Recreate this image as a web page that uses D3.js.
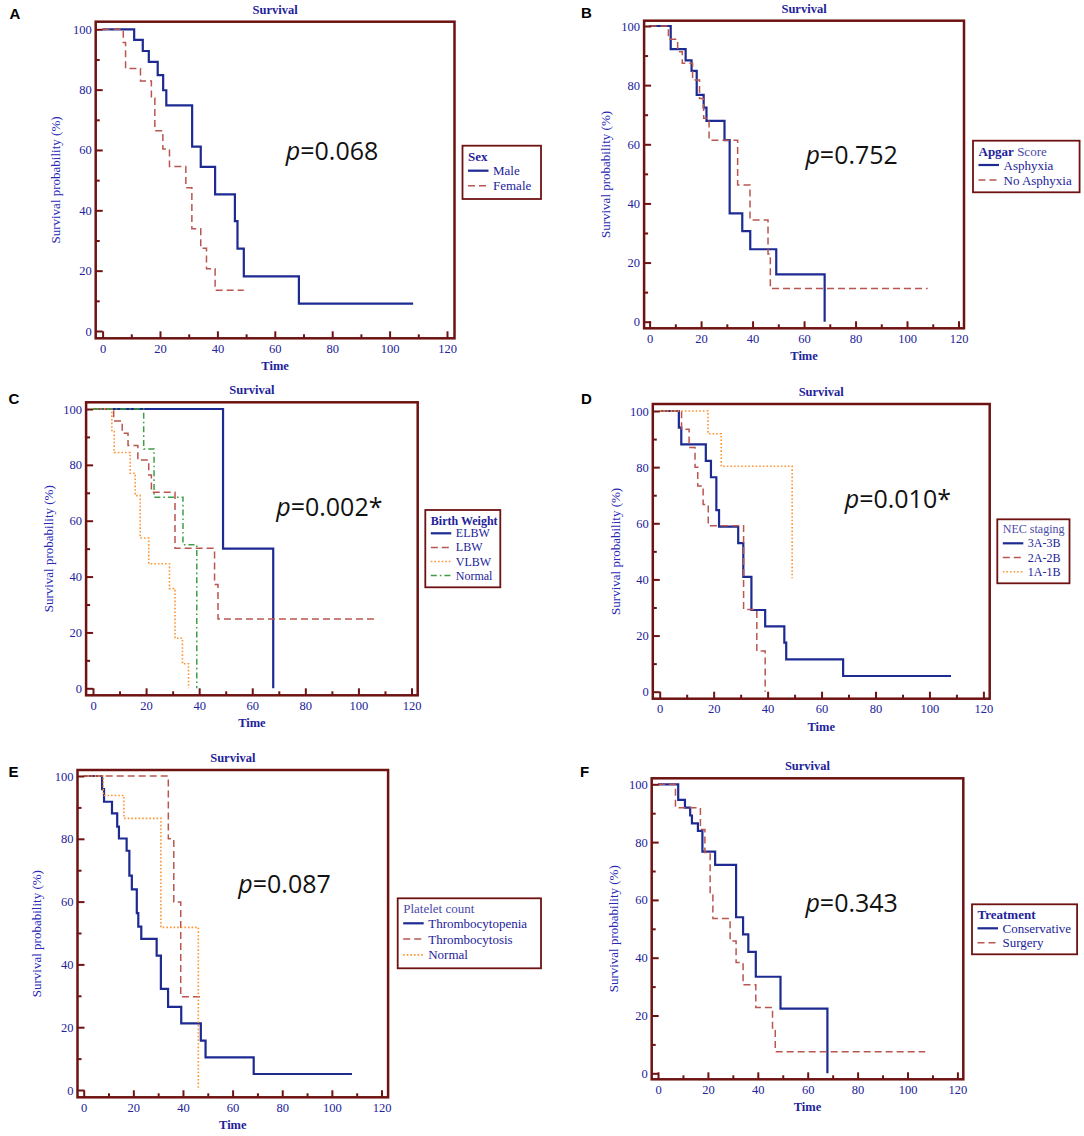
<!DOCTYPE html>
<html>
<head>
<meta charset="utf-8">
<script src="https://cdn.jsdelivr.net/npm/d3@7"></script>
<style>
  body { margin: 0; background: #fff; }
  text { font-family: "Liberation Serif", "DejaVu Serif", serif; }
</style>
</head>
<body>
<svg id="fig" width="1084" height="1136"></svg>
<script>
// ---- tick values shared by all panels
const xTicks = [0, 20, 40, 60, 80, 100, 120];
const xMinor = [10, 30, 50, 70, 90, 110];
const yTicks = [0, 20, 40, 60, 80, 100];
const yMinor = [10, 30, 50, 70, 90];

// ---- A: sex  (time of each step, survival % after the step)
const maleT = [0, 11.0, 14.0, 16.1, 19.2, 21.1, 22.2, 31.2, 34.2, 39.2, 46.1, 47.0, 49.2, 68.4, 108.2];
const maleS = [100, 96.5, 92.8, 89.2, 84.8, 79.8, 74.8, 61.1, 54.4, 45.3, 36.4, 27.3, 18.1, 9.1, 9.1];
const femaleT = [0, 7.2, 8.0, 13.2, 17.0, 18.2, 21.0, 23.3, 29.0, 31.1, 34.2, 36.2, 39.2, 49.2];
const femaleS = [100, 95.6, 87.0, 82.9, 77.2, 66.4, 60.3, 54.5, 47.5, 33.9, 27.4, 20.6, 13.5, 13.5];

// ---- B: apgar score
const asphyxiaT = [0, 8.2, 14.0, 16.3, 18.3, 21.0, 22.1, 29.1, 31.1, 36.0, 39.1, 49.2, 68.0];
const asphyxiaS = [100, 92.2, 88.4, 84.8, 76.7, 72.4, 67.9, 61.4, 36.6, 30.6, 24.5, 16.0, 0];
const noAsphyxiaT = [0, 7.3, 10.9, 12.7, 16.7, 19.4, 21.0, 23.1, 34.2, 39.0, 46.0, 46.9, 108.0];
const noAsphyxiaS = [100, 95.5, 91.3, 87.4, 81.7, 75.5, 68.8, 61.4, 46.2, 34.4, 22.9, 11.2, 11.2];

// ---- C: birth weight
const elbwT = [0, 49.0, 67.9];
const elbwS = [100, 50, 0];
const lbwT = [0, 7.8, 11.0, 13.2, 16.9, 21.0, 22.0, 30.9, 45.8, 47.1, 106.4];
const lbwS = [100, 95.7, 91.3, 86.9, 81.7, 76.4, 70.2, 50.1, 37.2, 24.8, 24.8];
const vlbwT = [0, 7.1, 8.0, 14.0, 15.9, 17.8, 21.0, 28.8, 30.9, 33.7, 36.0];
const vlbwS = [100, 91.9, 84.4, 77.0, 69.0, 53.8, 44.6, 35.7, 17.9, 8.8, 0];
const bwNormalT = [0, 19.1, 23.0, 33.9, 39.1];
const bwNormalS = [100, 85.7, 68.4, 51.4, 0];

// ---- D: NEC staging
const st3T = [0, 7.1, 8.0, 17.1, 19.0, 21.0, 22.0, 29.1, 31.0, 34.0, 39.1, 46.2, 46.9, 68.0, 108.0];
const st3S = [100, 94.1, 88.1, 82.2, 76.4, 64.7, 58.8, 52.9, 40.9, 29.1, 23.3, 17.5, 11.5, 5.6, 5.6];
const st2T = [0, 8.1, 10.9, 13.1, 14.1, 16.1, 18.0, 31.1, 36.0, 39.1];
const st2S = [100, 93.5, 87.0, 80.0, 73.3, 66.7, 59.1, 29.3, 14.5, 0];
const st1T = [0, 17.9, 22.8, 49.1];
const st1S = [100, 91.9, 80.3, 40.4];

// ---- E: platelet count
const penT = [0, 7.4, 8.2, 11.4, 13.5, 14.2, 17.3, 18.4, 19.4, 21.4, 22.0, 23.2, 29.4, 31.1, 34.0, 39.3, 47.2, 49.1, 68.5, 108.1];
const penS = [100, 95.8, 91.8, 88.1, 83.9, 80.1, 76.2, 68.3, 63.9, 56.3, 52.0, 48.1, 42.8, 32.2, 26.5, 21.2, 15.7, 10.4, 5.1, 5.1];
const tosisT = [0, 34.1, 36.3, 39.1, 47.2];
const tosisS = [100, 80.0, 59.9, 29.7, 29.7];
const pltNormalT = [0, 7.9, 16.2, 31.1, 46.2];
const pltNormalS = [100, 93.8, 86.5, 51.8, 0];

// ---- F: treatment
const consT = [0, 8.1, 10.8, 12.9, 13.6, 16.0, 17.8, 22.9, 31.3, 34.1, 36.2, 39.2, 49.1, 67.9];
const consS = [100, 94.6, 91.9, 89.2, 86.5, 83.9, 76.7, 72.1, 54.0, 48.1, 42.0, 33.4, 22.4, 0];
const surgT = [0, 7.0, 17.0, 18.8, 20.9, 22.0, 28.9, 31.3, 34.1, 39.2, 45.9, 47.0, 107.1];
const surgS = [100, 91.9, 84.4, 76.4, 61.7, 53.6, 45.8, 38.3, 30.6, 22.8, 15.0, 7.5, 7.5];

const textColor = '#22229a';
const frameColor = '#6e1212';
const lineStyles = {
  solid:   { color: '#1c2a92', width: 2.2, dash: null },
  dashed:  { color: '#b8564f', width: 1.5, dash: '7,4' },
  dotted:  { color: '#ff9433', width: 1.6, dash: '1.6,2' },
  dashdot: { color: '#3f9d45', width: 1.5, dash: '6,3,1.6,3' }
};

// layout of each panel (pixel positions)
const panels = [
  { letter: 'A', lp: [9.6, 19], frame: [95.7, 21.7, 454.5, 338.3], xr: [102.6, 447.0], yr: [331.0, 29.3], ytx: 55.1,
    legend: { box: [462.5, 145.7, 541, 199], title: [{ t: 'Sex', b: true }], ty: 10, y0: 25, gap: 15, fs: 13 },
    p: { x: 285.8, y: 160, v: '0.068' },
    series: [{ name: 'Male', t: maleT, s: maleS, st: 'solid' }, { name: 'Female', t: femaleT, s: femaleS, st: 'dashed' }] },
  { letter: 'B', lp: [580.9, 18.3], frame: [644.1, 20.7, 964.0, 328.3], xr: [649.6, 958.5], yr: [321.7, 26], ytx: 605.2,
    legend: { box: [973, 140.7, 1079.6, 192.3], title: [{ t: 'Apgar', b: true }, { t: ' Score', b: false }], ty: 10, y0: 24.3, gap: 15, fs: 13 },
    p: { x: 805.4, y: 164, v: '0.752' },
    series: [{ name: 'Asphyxia', t: asphyxiaT, s: asphyxiaS, st: 'solid' }, { name: 'No Asphyxia', t: noAsphyxiaT, s: noAsphyxiaS, st: 'dashed' }] },
  { letter: 'C', lp: [8.6, 404.3], frame: [86.1, 402.3, 417.7, 695.3], xr: [93.0, 411.5], yr: [688.3, 409], ytx: 48.2,
    legend: { box: [425.3, 510, 500.3, 587.3], title: [{ t: 'Birth Weight', b: true }], ty: 11, y0: 23.3, gap: 14.1, fs: 12 },
    p: { x: 276.2, y: 515.7, v: '0.002*' },
    series: [{ name: 'ELBW', t: elbwT, s: elbwS, st: 'solid' }, { name: 'LBW', t: lbwT, s: lbwS, st: 'dashed' },
             { name: 'VLBW', t: vlbwT, s: vlbwS, st: 'dotted' }, { name: 'Normal', t: bwNormalT, s: bwNormalS, st: 'dashdot' }] },
  { letter: 'D', lp: [581, 404.3], frame: [652.8, 404, 989.7, 698.7], xr: [659.7, 983.4], yr: [691.7, 411], ytx: 615.6,
    legend: { box: [997.3, 519.3, 1069.5, 583.3], title: [{ t: 'NEC staging', b: false }], ty: 9.7, y0: 24, gap: 14.2, fs: 12 },
    p: { x: 844.7, y: 507.7, v: '0.010*' },
    series: [{ name: '3A-3B', t: st3T, s: st3S, st: 'solid' }, { name: '2A-2B', t: st2T, s: st2S, st: 'dashed' },
             { name: '1A-1B', t: st1T, s: st1S, st: 'dotted' }] },
  { letter: 'E', lp: [8.6, 777.3], frame: [77.5, 770, 388.1, 1097.3], xr: [83.7, 381.5], yr: [1090, 776], ytx: 36.2,
    legend: { box: [397.7, 898.3, 541, 968.3], title: [{ t: 'Platelet count', b: false }], ty: 10, y0: 25, gap: 15.8, fs: 13 },
    p: { x: 238.3, y: 893.3, v: '0.087' },
    series: [{ name: 'Thrombocytopenia', t: penT, s: penS, st: 'solid' }, { name: 'Thrombocytosis', t: tosisT, s: tosisS, st: 'dashed' },
             { name: 'Normal', t: pltNormalT, s: pltNormalS, st: 'dotted' }] },
  { letter: 'F', lp: [580, 776.7], frame: [651.7, 778.3, 963.3, 1079.3], xr: [658, 957.4], yr: [1073.3, 784.3], ytx: 613.9,
    legend: { box: [972, 904.3, 1077.1, 954.3], title: [{ t: 'Treatment', b: true }], ty: 9.7, y0: 24, gap: 14.4, fs: 13 },
    p: { x: 805.4, y: 911.7, v: '0.343' },
    series: [{ name: 'Conservative', t: consT, s: consS, st: 'solid' }, { name: 'Surgery', t: surgT, s: surgS, st: 'dashed' }] }
];

const svg = d3.select('#fig');

function drawPanel(cfg) {
  const [fl, ft, fr, fb] = cfg.frame;
  const g = svg.append('g').attr('class', 'panel');
  const x = d3.scaleLinear().domain([0, 120]).range(cfg.xr);
  const y = d3.scaleLinear().domain([0, 100]).range(cfg.yr);

  // panel letter
  g.append('text').attr('x', cfg.lp[0]).attr('y', cfg.lp[1])
    .style('font-family', '"Liberation Sans", Arial, sans-serif')
    .style('font-weight', 'bold').style('font-size', '15px').attr('fill', '#000')
    .text(cfg.letter);

  // title
  g.append('text').attr('x', (fl + fr) / 2).attr('y', ft - 12)
    .attr('text-anchor', 'middle').attr('dominant-baseline', 'central')
    .style('font-size', '12.5px').style('font-weight', 'bold').attr('fill', textColor)
    .text('Survival');

  // curves (Kaplan-Meier steps)
  const line = d3.line().x(d => x(d[0])).y(d => y(d[1])).curve(d3.curveStepAfter);
  cfg.series.forEach(sr => {
    const st = lineStyles[sr.st];
    g.append('path')
      .datum(d3.zip(sr.t, sr.s))
      .attr('d', line)
      .attr('fill', 'none')
      .attr('stroke', st.color)
      .attr('stroke-width', st.width)
      .attr('stroke-dasharray', st.dash);
  });

  // axes: ticks point inward from the frame
  const xAx = g.append('g').attr('transform', `translate(0,${fb})`)
    .call(d3.axisBottom(x).tickValues(xTicks).tickSize(-7).tickPadding(5.5));
  g.append('g').attr('transform', `translate(0,${fb})`)
    .call(d3.axisBottom(x).tickValues(xMinor).tickSize(-4).tickFormat(''));
  const yAx = g.append('g').attr('transform', `translate(${fl},0)`)
    .call(d3.axisLeft(y).tickValues(yTicks).tickSize(-7).tickPadding(4));
  g.append('g').attr('transform', `translate(${fl},0)`)
    .call(d3.axisLeft(y).tickValues(yMinor).tickSize(-4).tickFormat(''));
  g.selectAll('.domain').remove();
  g.selectAll('.tick line').attr('stroke', frameColor).attr('stroke-width', 2);
  g.selectAll('.tick text').attr('fill', textColor)
    .style('font-family', '"Liberation Serif", serif').style('font-size', '12.5px');

  // frame
  g.append('rect').attr('x', fl).attr('y', ft).attr('width', fr - fl).attr('height', fb - ft)
    .attr('fill', 'none').attr('stroke', frameColor).attr('stroke-width', 2.5);

  // axis titles
  g.append('text').attr('x', (fl + fr) / 2).attr('y', fb + 28)
    .attr('text-anchor', 'middle').attr('dominant-baseline', 'central')
    .style('font-size', '12.5px').style('font-weight', 'bold').attr('fill', textColor)
    .text('Time');
  g.append('text')
    .attr('transform', `translate(${cfg.ytx},${(ft + fb) / 2}) rotate(-90)`)
    .attr('text-anchor', 'middle').attr('dominant-baseline', 'central')
    .style('font-size', '13px').attr('fill', '#2828b4')
    .text('Survival probability (%)');

  // p value
  const pt = g.append('text').attr('x', cfg.p.x).attr('y', cfg.p.y)
    .style('font-family', '"Open Sans", "Noto Sans", sans-serif').style('font-size', '25px').attr('fill', '#111');
  pt.append('tspan').style('font-style', 'italic').text('p');
  pt.append('tspan').text('=' + cfg.p.v);

  // legend
  const lg = cfg.legend;
  const [bl, bt, br, bb] = lg.box;
  g.append('rect').attr('x', bl).attr('y', bt).attr('width', br - bl).attr('height', bb - bt)
    .attr('fill', '#fff').attr('stroke', frameColor).attr('stroke-width', 1.8);
  const tt = g.append('text').attr('x', bl + 5.5).attr('y', bt + lg.ty)
    .attr('dominant-baseline', 'central').style('font-size', lg.fs + 'px').attr('fill', textColor);
  lg.title.forEach(part => {
    tt.append('tspan').style('font-weight', part.b ? 'bold' : 'normal')
      .attr('fill', part.b ? textColor : '#4a4aa8').text(part.t);
  });
  cfg.series.forEach((sr, i) => {
    const st = lineStyles[sr.st];
    const yy = bt + lg.y0 + i * lg.gap;
    g.append('line').attr('x1', bl + 5.5).attr('x2', bl + 26).attr('y1', yy).attr('y2', yy)
      .attr('stroke', st.color).attr('stroke-width', st.width).attr('stroke-dasharray', st.dash);
    g.append('text').attr('x', bl + 30.5).attr('y', yy)
      .attr('dominant-baseline', 'central').style('font-size', lg.fs + 'px').attr('fill', textColor)
      .text(sr.name);
  });
}

panels.forEach(drawPanel);
</script>
</body>
</html>
